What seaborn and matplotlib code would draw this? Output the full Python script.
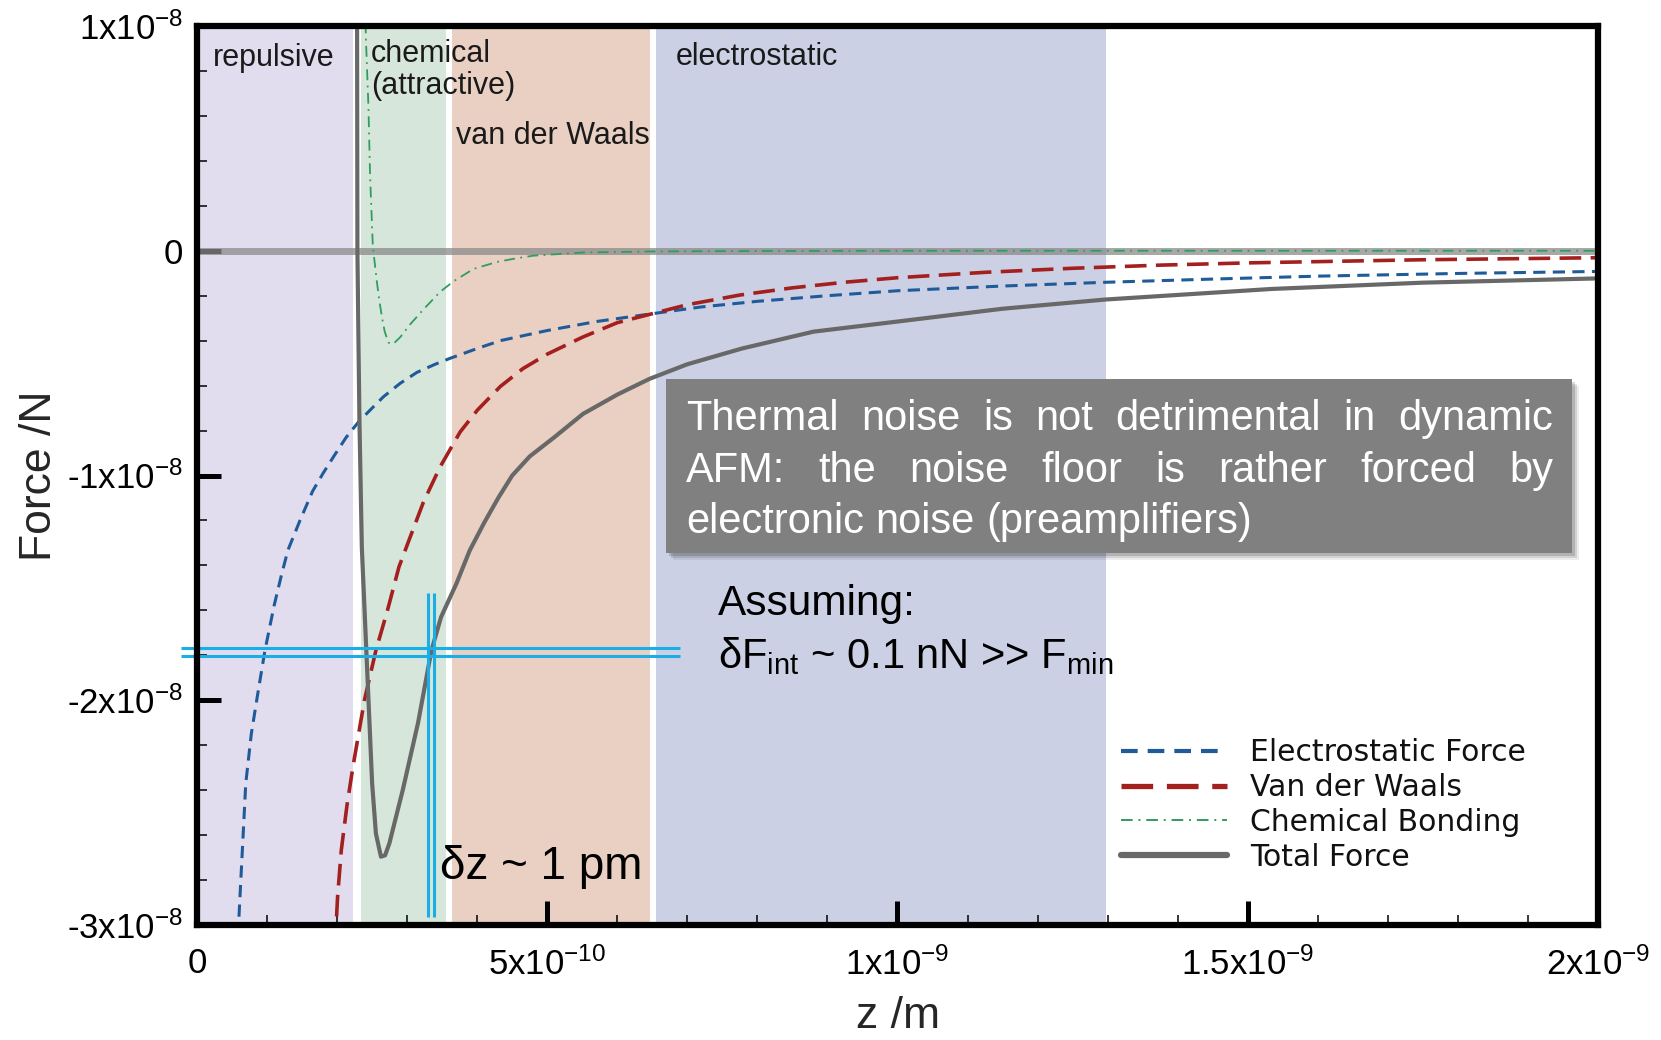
import numpy as np
import pandas as pd
import matplotlib
matplotlib.use("Agg")
import matplotlib.pyplot as plt
import seaborn as sns
from matplotlib.patches import Rectangle
from matplotlib.ticker import FixedLocator, MultipleLocator

# -------------------------------------------------------------
# Data (z in nm, force in 1e-8 N)
# -------------------------------------------------------------
z_es = [0.0585, 0.0624, 0.0696, 0.0775, 0.086, 0.0969, 0.11, 0.12, 0.1297, 0.147, 0.165,
        0.18, 0.195, 0.213, 0.231, 0.25, 0.266, 0.29, 0.314, 0.34, 0.361, 0.40, 0.433,
        0.47, 0.50, 0.57, 0.65, 0.72, 0.80, 0.90, 1.00, 1.15, 1.30, 1.45, 1.60, 1.80, 2.00]
f_es = [-3.05, -2.81, -2.37, -2.15, -1.985, -1.78, -1.58, -1.45, -1.333, -1.20, -1.07,
        -0.99, -0.916, -0.83, -0.76, -0.70, -0.65, -0.59, -0.541, -0.505, -0.479, -0.435, -0.40,
        -0.375, -0.355, -0.315, -0.28, -0.25, -0.225, -0.20, -0.178, -0.157, -0.14, -0.126,
        -0.113, -0.101, -0.092]

z_vdw = [0.197, 0.2007, 0.206, 0.214, 0.2226, 0.239, 0.2554, 0.2719, 0.2883, 0.3043,
         0.3233, 0.347, 0.3757, 0.40, 0.433, 0.465, 0.50, 0.55, 0.60, 0.65, 0.70, 0.775,
         0.85, 0.925, 1.00, 1.125, 1.25, 1.375, 1.50, 1.75, 2.00]
f_vdw = [-3.10, -2.874, -2.667, -2.47, -2.296, -2.00, -1.778, -1.60, -1.407, -1.274,
         -1.118, -0.962, -0.806, -0.71, -0.604, -0.525, -0.46, -0.385, -0.32, -0.28, -0.24,
         -0.197, -0.165, -0.14, -0.12, -0.096, -0.078, -0.064, -0.054, -0.040, -0.031]

z_chem = [0.2395, 0.241, 0.2447, 0.2471, 0.251, 0.2567, 0.26, 0.2638, 0.268, 0.2733, 0.28,
          0.29, 0.305, 0.3233, 0.347, 0.3662, 0.3947, 0.428, 0.455, 0.48, 0.55, 0.65, 0.80,
          1.00, 1.50, 2.00]
f_chem = [1.20, 0.956, 0.644, 0.332, 0.02, -0.136, -0.215, -0.292, -0.36, -0.409, -0.415,
          -0.385, -0.325, -0.261, -0.183, -0.136, -0.081, -0.050, -0.034, -0.022, -0.008,
          -0.003, -0.001, 0.0, 0.0, 0.0]

z_tot = [0.2284, 0.2290, 0.2319, 0.2353, 0.2417, 0.2465, 0.250, 0.2554, 0.2626, 0.2685,
         0.2746, 0.2937, 0.3156, 0.3347, 0.3484, 0.3703, 0.3894, 0.41, 0.43, 0.45, 0.475,
         0.51, 0.551, 0.60, 0.646, 0.70, 0.778, 0.88, 1.00, 1.15, 1.297, 1.534, 1.75, 2.00]
f_tot = [1.30, 0.0, -0.76, -1.32, -1.778, -2.12, -2.37, -2.593, -2.696, -2.69,
         -2.637, -2.40, -2.10, -1.778, -1.63, -1.481, -1.333, -1.21, -1.10, -1.0, -0.915,
         -0.83, -0.726, -0.64, -0.57, -0.505, -0.435, -0.36, -0.315, -0.258, -0.217, -0.17,
         -0.142, -0.123]

series_names = ["Electrostatic Force", "Van der Waals", "Chemical Bonding", "Total Force"]
series_colors = ["#1f5b99", "#a3201f", "#2f9e5c", "#686868"]
series_styles = [(0, (4, 2.4)), (0, (6, 2.6)), (0, (6, 3, 1, 3)), "-"]
series_widths = [2.2, 2.6, 1.3, 3.0]
legend_widths = [3.0, 3.8, 1.4, 4.5]

# regions (m)
band_lo = [0.0, 2.343e-10, 3.639e-10, 6.55e-10]
band_hi = [2.229e-10, 3.553e-10, 6.46e-10, 1.297e-9]
band_colors = ["#e2ddee", "#d7e6da", "#eacfc3", "#cbd0e4"]

# delta markers (cyan)
dF_levels = [-1.7676e-8, -1.8013e-8]
dF_span = [-0.0229e-9, 0.69e-9]
dz_levels = [3.297e-10, 3.380e-10]
dz_span = [-2.963e-8, -1.524e-8]

x_ticks = [0, 5e-10, 1e-9, 1.5e-9, 2e-9]
x_ticklabels = ["0", "5x10$^{-10}$", "1x10$^{-9}$", "1.5x10$^{-9}$", "2x10$^{-9}$"]
y_ticks = [-3e-8, -2e-8, -1e-8, 0, 1e-8]
y_ticklabels = ["-3x10$^{-8}$", "-2x10$^{-8}$", "-1x10$^{-8}$", "0", "1x10$^{-8}$"]

# -------------------------------------------------------------
sns.set_theme(style="white")
plt.rcParams['font.family'] = ['Liberation Sans', 'DejaVu Sans']
plt.rcParams['mathtext.fontset'] = 'custom'
plt.rcParams['mathtext.rm'] = 'Liberation Sans'
plt.rcParams['mathtext.it'] = 'Liberation Sans:italic'
plt.rcParams['mathtext.bf'] = 'Liberation Sans:bold'

W, H = 1661, 1040
fig = plt.figure(figsize=(W / 100, H / 100), dpi=100)
ax = fig.add_axes([197 / W, 1 - 925 / H, 1401 / W, 899 / H])
ax.set_facecolor("white")

for lo, hi, c in zip(band_lo, band_hi, band_colors):
    ax.axvspan(lo, hi, color=c, lw=0, zorder=0)

ax.axhline(0, color="#8a8a8a", alpha=0.75, lw=5, zorder=1)

curves = [(z_es, f_es), (z_vdw, f_vdw), (z_chem, f_chem), (z_tot, f_tot)]
df = pd.concat([
    pd.DataFrame({"z": np.array(z) * 1e-9, "F": np.array(f) * 1e-8, "series": name})
    for name, (z, f) in zip(series_names, curves)
])
for name, c, ls, lw in zip(series_names, series_colors, series_styles, series_widths):
    sns.lineplot(data=df[df.series == name], x="z", y="F", ax=ax, color=c,
                 linestyle=ls, lw=lw, label=name, estimator=None, sort=False, zorder=3)

ax.hlines(dF_levels, dF_span[0], dF_span[1], color="#1aaee6", lw=2.2, clip_on=False, zorder=4)
ax.vlines(dz_levels, dz_span[0], dz_span[1], color="#1aaee6", lw=2.2, zorder=4)

ax.set_xlim(0, 2e-9)
ax.set_ylim(-3e-8, 1e-8)
ax.xaxis.set_major_locator(FixedLocator(x_ticks))
ax.set_xticklabels(x_ticklabels)
ax.yaxis.set_major_locator(FixedLocator(y_ticks))
ax.set_yticklabels(y_ticklabels)
ax.xaxis.set_minor_locator(MultipleLocator(1e-10))
ax.yaxis.set_minor_locator(MultipleLocator(2e-9))
ax.tick_params(which="both", direction="in", bottom=True, left=True, top=False, right=False,
               color="black")
ax.tick_params(which="major", length=17, width=3.6, labelsize=25, labelcolor="black")
ax.tick_params(axis="x", which="major", pad=16)
ax.tick_params(axis="y", which="major", pad=10)
ax.tick_params(which="minor", length=7, width=1.1)
for s in ax.spines.values():
    s.set_visible(True)
    s.set_color("black")
    s.set_linewidth(4.5)
    s.set_zorder(6)

ax.set_xlabel("z /m", fontsize=32)
ax.set_ylabel("Force /N", fontsize=32)
ax.xaxis.set_label_coords(0.5, -0.079)
ax.yaxis.set_label_coords(-0.098, 0.5)

# region labels
lab_kw = dict(fontsize=22, color="#1a1a1a", va="baseline", ha="left", zorder=5)
ax.text(0.0229e-9, 0.822e-8, "repulsive", **lab_kw)
ax.text(0.248e-9, 0.84e-8, "chemical", **lab_kw)
ax.text(0.248e-9, 0.698e-8, "(attractive)", **lab_kw)
ax.text(0.37e-9, 0.476e-8, "van der Waals", **lab_kw)
ax.text(0.684e-9, 0.828e-8, "electrostatic", **lab_kw)

ax.text(0.744e-9, -1.622e-8, "Assuming:", fontsize=30.5, va="baseline", ha="left", color="black")
ax.text(0.744e-9, -1.858e-8, "δF$_{\\mathrm{int}}$ ~ 0.1 nN >> F$_{\\mathrm{min}}$",
        fontsize=30, va="baseline", ha="left", color="black")
ax.text(0.347e-9, -2.796e-8, "δz ~ 1 pm", fontsize=33, va="baseline", ha="left", color="black",
        zorder=5)

leg = ax.legend(loc="upper left", bbox_to_anchor=(1121 / W, 1 - 738 / H),
                bbox_transform=fig.transFigure, frameon=False,
                prop={"family": "DejaVu Sans", "size": 21.5}, handlelength=3.55,
                handletextpad=0.77, labelspacing=0.2, borderpad=0, borderaxespad=0)
for line, lw in zip(leg.get_lines(), legend_widths):
    line.set_linewidth(lw)
for t in leg.get_texts():
    t.set_color("#111111")

# gray note box with shadow
bx0, bx1, by0, by1 = 666, 1572, 379, 553
for k, a in zip([7, 5, 3], [0.07, 0.11, 0.15]):
    fig.add_artist(Rectangle(((bx0 + k) / W, 1 - (by1 + k) / H), (bx1 - bx0) / W, (by1 - by0) / H,
                             transform=fig.transFigure, color="black", alpha=a, lw=0, zorder=7))
fig.add_artist(Rectangle((bx0 / W, 1 - by1 / H), (bx1 - bx0) / W, (by1 - by0) / H,
                         transform=fig.transFigure, color="#808080", lw=0, zorder=8))

note_lines = ["Thermal noise is not detrimental in dynamic",
              "AFM: the noise floor is rather forced by",
              "electronic noise (preamplifiers)"]
note_base = [430, 482, 533]
tx0, tx1 = 686, 1553
r = fig.canvas.get_renderer()
for i, (line, yb) in enumerate(zip(note_lines, note_base)):
    words = line.split()
    texts = [fig.text(0, 1 - yb / H, w, fontsize=30, color="white", va="baseline", ha="left",
                      zorder=9) for w in words]
    widths = [t.get_window_extent(r).width for t in texts]
    if i < len(note_lines) - 1:
        gap = (tx1 - tx0 - sum(widths)) / (len(words) - 1)
    else:
        gap = 0.278 * 30 * 100 / 72
    x = tx0
    for t, w in zip(texts, widths):
        t.set_x(x / W)
        x += w + gap

fig.savefig("out.png", dpi=100)
